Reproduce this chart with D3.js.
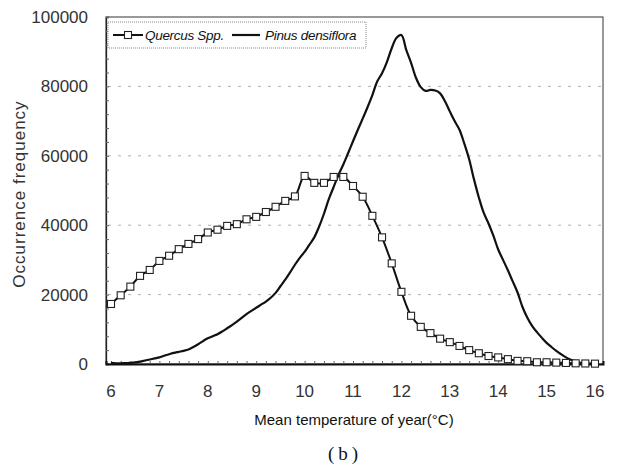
<!DOCTYPE html>
<html lang="en">
<head>
  <meta charset="UTF-8" />
  <title>Occurrence frequency</title>
  <script src="https://d3js.org/d3.v7.min.js"></script>
  <style>
    html, body { margin: 0; padding: 0; background: #fff; }
    svg { display: block; font-family: "Liberation Sans", Arial, sans-serif; }
    .tick-label { font-size: 17px; fill: #333; }
    .grid { stroke: #b0b0b0; stroke-width: 1px; stroke-dasharray: 3,7; }
    .frame { fill: none; stroke: #333; stroke-width: 1px; }
    .legend text { font-size: 13.5px; font-style: italic; fill: #111; letter-spacing: -0.3px; }
  </style>
</head>
<body>
  <svg id="chart" width="624" height="469"></svg>

  <script>
    // Quercus Spp. : markers every 0.2 degC from 6 to 16
    const quercusTemp = d3.range(51).map(i => +(6 + i * 0.2).toFixed(1));
    const quercusFreq = [
      17300, 19800, 22300, 25400, 27100, 29700, 31200, 33100, 34600, 36000,
      37900, 38700, 39800, 40300, 41700, 42400, 43800, 45300, 47000, 48300,
      54200, 52200, 52200, 53900, 53900, 51300, 48200, 42700, 36500, 29000,
      20800, 13900, 10700, 8900, 7300, 6300, 5200, 4000, 3100, 2300,
      1900, 1400, 900, 800, 500, 500, 400, 300, 200, 150,
      100
    ];
    // Pinus densiflora : smooth line, read every 0.1 degC
    const pinusTemp = d3.range(101).map(i => +(6 + i * 0.1).toFixed(1));
    const pinusFreq = [
      300, 200, 200, 250, 300, 450, 700, 1000, 1300, 1600,
      1900, 2400, 2800, 3200, 3500, 3800, 4200, 4900, 5700, 6600,
      7400, 8000, 8600, 9400, 10300, 11200, 12200, 13300, 14400, 15300,
      16200, 17100, 18000, 19100, 20500, 22400, 24300, 26400, 28600, 30600,
      32300, 34400, 36500, 39600, 43300, 47500, 51000, 54500, 57500, 60800,
      64200, 67500, 70700, 74000, 77500, 81400, 83800, 87000, 91000, 94000,
      94800, 90500, 86800, 82500, 79800, 78700, 79000, 78800, 78000, 75700,
      72800, 70000, 67500, 63500, 59000, 53200, 48000, 43600, 40500, 37000,
      33000, 30000, 27000, 23800, 20600, 16500, 13400, 11000, 9200, 7600,
      6100, 4900, 3800, 2800, 1900, 1200, 700, 350, 150, 50,
      0
    ];
    const xTicks = d3.range(6, 17);
    const yTicks = [0, 20000, 40000, 60000, 80000, 100000];
    const seriesNames = ['Quercus Spp.', 'Pinus densiflora'];

    const svg = d3.select('#chart');
    const plotL = 106, plotR = 603, plotT = 17, plotB = 364;
    const x = d3.scaleLinear().domain([6 - 5 / 48.4, 16 + 8 / 48.4]).range([plotL, plotR]);
    const y = d3.scaleLinear().domain([0, 100000]).range([plotB, plotT]);

    // gridlines
    svg.append('g').selectAll('line').data(yTicks.slice(1, -1)).join('line')
      .attr('class', 'grid')
      .attr('x1', plotL + 2).attr('x2', plotR - 2)
      .attr('y1', d => y(d)).attr('y2', d => y(d));

    // plot frame
    svg.append('rect').attr('class', 'frame')
      .attr('x', plotL).attr('y', plotT).attr('width', plotR - plotL).attr('height', plotB - plotT);

    // y axis: labels + small inner ticks every 4000
    const yAxis = svg.append('g').attr('transform', `translate(${plotL},0)`)
      .call(d3.axisLeft(y).tickValues(d3.range(0, 100001, 4000)).tickSize(-3).tickFormat(''));
    yAxis.select('.domain').attr('stroke', '#222').attr('stroke-width', 1.3);
    yAxis.selectAll('.tick line').attr('stroke', '#666');
    svg.append('g').selectAll('text').data(yTicks).join('text')
      .attr('class', 'tick-label')
      .attr('x', 88).attr('y', d => y(d)).attr('dy', '0.35em')
      .attr('text-anchor', 'end')
      .text(d => d);

    // x axis: inner ticks every 0.2
    const xAxis = svg.append('g').attr('transform', `translate(0,${plotB})`)
      .call(d3.axisBottom(x).tickValues(quercusTemp).tickSize(-3).tickFormat(''));
    xAxis.select('.domain').attr('stroke', '#111').attr('stroke-width', 2);
    xAxis.selectAll('.tick line').attr('stroke', '#666');
    svg.append('g').selectAll('text').data(xTicks).join('text')
      .attr('class', 'tick-label')
      .attr('x', d => x(d)).attr('y', 397)
      .attr('text-anchor', 'middle')
      .text(d => d);

    // axis titles
    svg.append('text')
      .attr('transform', 'translate(25,194) rotate(-90)')
      .attr('text-anchor', 'middle')
      .style('font-size', '17px').style('letter-spacing', '1px').style('fill', '#333')
      .text('Occurrence frequency');
    svg.append('text')
      .attr('x', 354).attr('y', 425)
      .attr('text-anchor', 'middle')
      .style('font-size', '15px').style('fill', '#111')
      .text('Mean temperature of year(°C)');
    svg.append('text')
      .attr('x', 345).attr('y', 460)
      .attr('text-anchor', 'middle')
      .style('font-family', '"Liberation Serif", "DejaVu Serif", serif')
      .style('font-size', '19px').style('letter-spacing', '4px').style('fill', '#111')
      .text('(b)');

    // series
    const line = d3.line().x(d => x(d[0])).y(d => y(d[1])).curve(d3.curveCatmullRom.alpha(0.5));
    const pinusPts = pinusTemp.map((t, i) => [t, pinusFreq[i]]);
    const quercusPts = quercusTemp.map((t, i) => [t, quercusFreq[i]]);

    svg.append('path').datum(pinusPts)
      .attr('d', line).attr('fill', 'none').attr('stroke', '#111').attr('stroke-width', 2.2);
    svg.append('path').datum(quercusPts)
      .attr('d', line).attr('fill', 'none').attr('stroke', '#111').attr('stroke-width', 2);
    svg.append('g').selectAll('rect').data(quercusPts).join('rect')
      .attr('x', d => x(d[0]) - 3.5).attr('y', d => y(d[1]) - 3.5)
      .attr('width', 7).attr('height', 7)
      .attr('fill', '#fff').attr('stroke', '#222').attr('stroke-width', 1.1);

    // legend
    const legend = svg.append('g').attr('class', 'legend');
    legend.append('rect')
      .attr('x', 108).attr('y', 22).attr('width', 258).attr('height', 26)
      .attr('fill', '#fff').attr('stroke', '#888').attr('stroke-width', 1).attr('stroke-dasharray', '1,1');
    legend.append('line').attr('x1', 113).attr('x2', 143).attr('y1', 35).attr('y2', 35)
      .attr('stroke', '#111').attr('stroke-width', 2);
    legend.append('rect').attr('x', 124.5).attr('y', 31.5).attr('width', 7).attr('height', 7)
      .attr('fill', '#fff').attr('stroke', '#222').attr('stroke-width', 1.1);
    legend.append('text').attr('x', 145).attr('y', 40).text(seriesNames[0]);
    legend.append('line').attr('x1', 232).attr('x2', 260).attr('y1', 35).attr('y2', 35)
      .attr('stroke', '#111').attr('stroke-width', 2.2);
    legend.append('text').attr('x', 265).attr('y', 40).text(seriesNames[1]);
  </script>
</body>
</html>
